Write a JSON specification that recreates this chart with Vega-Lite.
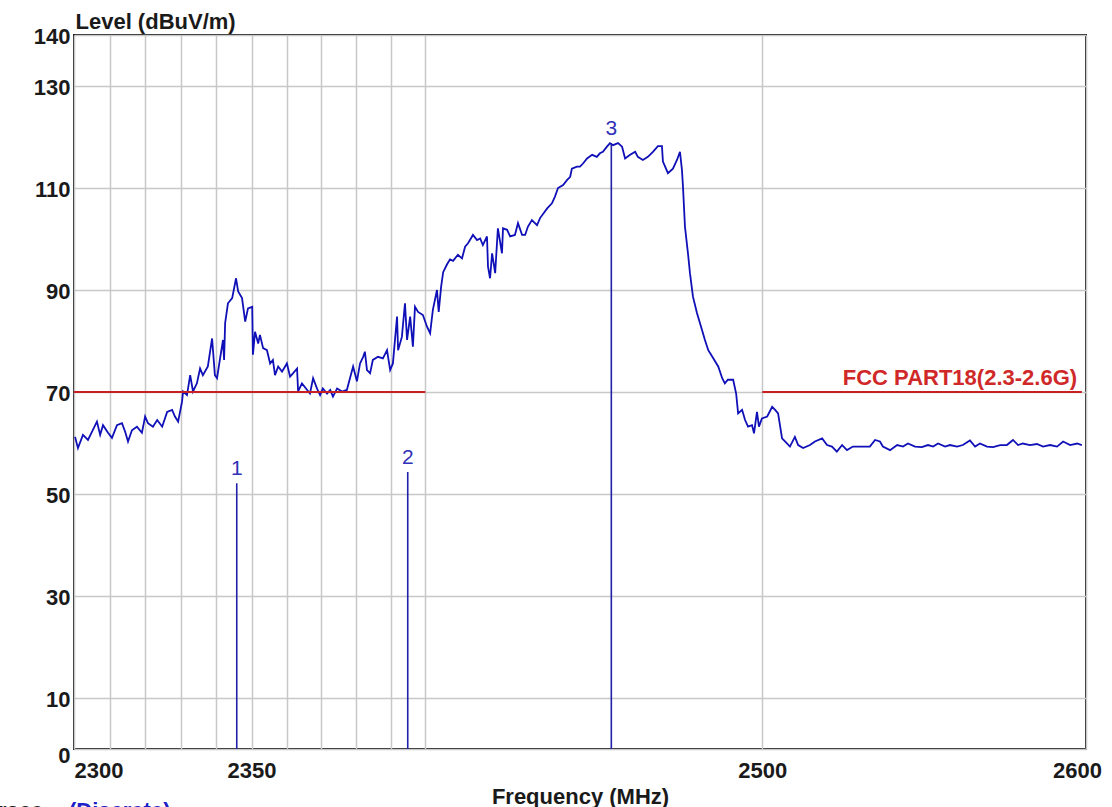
{
"$schema": "https://vega.github.io/schema/vega-lite/v6.json",
"width": 1012, "height": 714,
"autosize": {"type": "none"},
"padding": {"left": 74, "top": 35, "right": 26, "bottom": 58},
"background": "white",
"config": {"view": {"stroke": "#1a1a1a", "strokeWidth": 2}, "font": "Liberation Sans"},
"datasets": {
"trace": [
{"freq":2300.3,"level":61.2},{"freq":2301.1,"level":59.0},{"freq":2302.5,"level":61.6},{"freq":2303.9,"level":60.6},{"freq":2305.0,"level":62.2},{"freq":2306.4,"level":64.2},{"freq":2307.3,"level":61.6},{"freq":2308.1,"level":63.5},{"freq":2309.5,"level":62.0},{"freq":2310.6,"level":61.0},{"freq":2312.0,"level":63.5},{"freq":2313.4,"level":63.9},{"freq":2314.3,"level":62.2},{"freq":2315.1,"level":60.3},{"freq":2316.2,"level":62.5},{"freq":2317.6,"level":63.2},{"freq":2319.0,"level":62.0},{"freq":2319.9,"level":65.2},{"freq":2320.7,"level":63.9},{"freq":2322.1,"level":63.2},{"freq":2323.3,"level":64.5},{"freq":2324.7,"level":63.2},{"freq":2326.1,"level":66.1},{"freq":2327.5,"level":66.5},{"freq":2328.3,"level":65.2},{"freq":2329.2,"level":64.2},{"freq":2330.3,"level":68.1},{"freq":2330.6,"level":70.1},{"freq":2331.7,"level":69.4},{"freq":2332.6,"level":73.3},{"freq":2333.4,"level":70.1},{"freq":2334.5,"level":71.7},{"freq":2335.4,"level":74.6},{"freq":2336.2,"level":73.3},{"freq":2337.6,"level":75.0},{"freq":2338.8,"level":80.5},{"freq":2339.6,"level":73.3},{"freq":2340.2,"level":72.7},{"freq":2341.0,"level":76.3},{"freq":2341.9,"level":80.2},{"freq":2342.2,"level":76.3},{"freq":2342.5,"level":83.5},{"freq":2343.3,"level":87.4},{"freq":2344.5,"level":88.4},{"freq":2345.6,"level":92.3},{"freq":2346.2,"level":89.7},{"freq":2347.3,"level":88.4},{"freq":2348.2,"level":83.8},{"freq":2349.0,"level":86.4},{"freq":2350.2,"level":86.7},{"freq":2350.4,"level":77.3},{"freq":2351.0,"level":81.8},{"freq":2351.9,"level":79.5},{"freq":2352.4,"level":81.2},{"freq":2353.3,"level":78.6},{"freq":2354.4,"level":78.2},{"freq":2355.3,"level":75.6},{"freq":2356.1,"level":76.3},{"freq":2356.7,"level":73.3},{"freq":2357.6,"level":75.0},{"freq":2358.7,"level":74.0},{"freq":2360.1,"level":75.6},{"freq":2361.0,"level":73.0},{"freq":2361.9,"level":73.7},{"freq":2363.0,"level":74.6},{"freq":2363.3,"level":70.1},{"freq":2364.4,"level":71.7},{"freq":2365.9,"level":70.4},{"freq":2366.7,"level":69.7},{"freq":2367.6,"level":72.7},{"freq":2368.7,"level":70.7},{"freq":2369.6,"level":69.4},{"freq":2370.4,"level":70.7},{"freq":2371.6,"level":69.7},{"freq":2372.5,"level":70.4},{"freq":2373.3,"level":69.1},{"freq":2374.5,"level":70.7},{"freq":2375.9,"level":70.1},{"freq":2377.3,"level":70.4},{"freq":2378.2,"level":72.7},{"freq":2379.1,"level":75.0},{"freq":2380.2,"level":72.1},{"freq":2381.1,"level":75.6},{"freq":2382.0,"level":76.9},{"freq":2382.5,"level":77.9},{"freq":2383.1,"level":74.3},{"freq":2384.0,"level":73.7},{"freq":2384.8,"level":76.3},{"freq":2386.3,"level":76.9},{"freq":2387.7,"level":76.6},{"freq":2388.9,"level":78.2},{"freq":2389.8,"level":74.3},{"freq":2390.6,"level":75.6},{"freq":2391.8,"level":84.8},{"freq":2392.1,"level":78.2},{"freq":2393.2,"level":80.8},{"freq":2394.1,"level":87.4},{"freq":2394.7,"level":80.2},{"freq":2395.6,"level":84.8},{"freq":2396.4,"level":78.9},{"freq":2397.0,"level":86.7},{"freq":2397.9,"level":85.7},{"freq":2399.3,"level":85.1},{"freq":2400.5,"level":82.8},{"freq":2401.4,"level":81.5},{"freq":2402.2,"level":86.1},{"freq":2403.4,"level":90.0},{"freq":2403.9,"level":85.7},{"freq":2404.6,"level":90.6},{"freq":2405.2,"level":93.5},{"freq":2406.3,"level":95.0},{"freq":2407.2,"level":96.0},{"freq":2408.1,"level":95.7},{"freq":2409.5,"level":96.9},{"freq":2410.7,"level":96.2},{"freq":2411.6,"level":98.5},{"freq":2412.5,"level":99.2},{"freq":2413.9,"level":100.8},{"freq":2415.1,"level":99.8},{"freq":2416.0,"level":100.1},{"freq":2416.8,"level":98.8},{"freq":2418.0,"level":100.5},{"freq":2418.3,"level":94.6},{"freq":2418.9,"level":92.3},{"freq":2419.5,"level":97.2},{"freq":2420.4,"level":93.3},{"freq":2421.2,"level":102.1},{"freq":2422.4,"level":97.2},{"freq":2422.7,"level":102.1},{"freq":2423.9,"level":101.8},{"freq":2424.8,"level":100.5},{"freq":2426.2,"level":100.8},{"freq":2427.1,"level":103.1},{"freq":2428.3,"level":100.8},{"freq":2429.2,"level":100.8},{"freq":2430.0,"level":102.4},{"freq":2431.2,"level":103.7},{"freq":2432.7,"level":102.7},{"freq":2433.6,"level":104.1},{"freq":2435.7,"level":106.0},{"freq":2437.1,"level":107.0},{"freq":2438.0,"level":108.3},{"freq":2438.9,"level":110.0},{"freq":2440.4,"level":110.6},{"freq":2441.6,"level":111.6},{"freq":2442.5,"level":112.2},{"freq":2443.0,"level":113.8},{"freq":2444.5,"level":114.2},{"freq":2445.4,"level":114.2},{"freq":2446.3,"level":114.8},{"freq":2447.5,"level":115.8},{"freq":2449.0,"level":116.5},{"freq":2450.4,"level":116.1},{"freq":2451.3,"level":116.8},{"freq":2452.2,"level":117.1},{"freq":2453.4,"level":118.1},{"freq":2454.3,"level":118.8},{"freq":2455.2,"level":118.4},{"freq":2456.7,"level":118.8},{"freq":2457.9,"level":118.1},{"freq":2458.8,"level":115.8},{"freq":2460.3,"level":116.5},{"freq":2461.8,"level":117.1},{"freq":2462.6,"level":116.1},{"freq":2464.1,"level":115.5},{"freq":2465.6,"level":116.1},{"freq":2467.1,"level":117.1},{"freq":2468.6,"level":118.2},{"freq":2469.8,"level":118.2},{"freq":2470.1,"level":115.2},{"freq":2471.6,"level":112.9},{"freq":2473.1,"level":113.8},{"freq":2474.3,"level":115.5},{"freq":2475.2,"level":117.1},{"freq":2475.8,"level":113.5},{"freq":2476.1,"level":110.3},{"freq":2476.7,"level":102.4},{"freq":2477.6,"level":97.2},{"freq":2478.2,"level":93.3},{"freq":2479.1,"level":88.7},{"freq":2480.3,"level":85.5},{"freq":2481.8,"level":82.2},{"freq":2482.7,"level":80.2},{"freq":2483.7,"level":78.2},{"freq":2485.2,"level":76.6},{"freq":2486.7,"level":75.0},{"freq":2487.9,"level":72.7},{"freq":2488.7,"level":71.7},{"freq":2489.6,"level":72.4},{"freq":2491.2,"level":72.4},{"freq":2492.1,"level":69.7},{"freq":2492.7,"level":65.8},{"freq":2493.9,"level":66.5},{"freq":2494.8,"level":64.5},{"freq":2495.7,"level":63.2},{"freq":2496.9,"level":63.5},{"freq":2497.5,"level":61.9},{"freq":2498.4,"level":66.1},{"freq":2499.0,"level":63.2},{"freq":2499.9,"level":64.8},{"freq":2501.5,"level":65.2},{"freq":2503.0,"level":67.1},{"freq":2503.9,"level":66.5},{"freq":2504.8,"level":65.8},{"freq":2506.0,"level":60.9},{"freq":2506.9,"level":60.3},{"freq":2508.4,"level":59.3},{"freq":2509.9,"level":61.2},{"freq":2510.9,"level":59.6},{"freq":2512.4,"level":59.0},{"freq":2514.5,"level":59.6},{"freq":2516.0,"level":60.3},{"freq":2518.2,"level":60.9},{"freq":2519.7,"level":59.6},{"freq":2521.2,"level":59.3},{"freq":2522.7,"level":58.3},{"freq":2524.3,"level":59.6},{"freq":2525.8,"level":58.6},{"freq":2527.6,"level":59.3},{"freq":2529.8,"level":59.3},{"freq":2532.8,"level":59.3},{"freq":2534.4,"level":60.6},{"freq":2535.9,"level":60.3},{"freq":2536.8,"level":59.3},{"freq":2539.0,"level":58.6},{"freq":2541.2,"level":59.6},{"freq":2543.0,"level":59.3},{"freq":2544.5,"level":59.9},{"freq":2546.7,"level":59.3},{"freq":2548.8,"level":59.2},{"freq":2550.7,"level":59.6},{"freq":2552.3,"level":59.3},{"freq":2553.8,"level":59.9},{"freq":2556.0,"level":59.3},{"freq":2557.5,"level":59.6},{"freq":2559.7,"level":59.3},{"freq":2561.5,"level":59.6},{"freq":2563.7,"level":60.5},{"freq":2565.3,"level":59.3},{"freq":2566.8,"level":59.9},{"freq":2569.0,"level":59.3},{"freq":2570.9,"level":59.2},{"freq":2573.1,"level":59.6},{"freq":2575.2,"level":59.6},{"freq":2577.1,"level":60.6},{"freq":2578.7,"level":59.6},{"freq":2580.2,"level":59.9},{"freq":2582.4,"level":59.6},{"freq":2584.6,"level":59.8},{"freq":2586.5,"level":59.3},{"freq":2588.7,"level":59.6},{"freq":2590.9,"level":59.3},{"freq":2592.8,"level":60.3},{"freq":2595.0,"level":59.6},{"freq":2597.2,"level":59.9},{"freq":2598.7,"level":59.6}
],
"limit": [{"freq":2300,"freq2":2400,"level":70},{"freq":2500,"freq2":2598.7,"level":70}],
"markers": [{"freq":2345.8,"level":52.1,"label":"1"},{"freq":2394.9,"level":54.3,"label":"2"},{"freq":2454.7,"level":118.8,"label":"3"}],
"limitLabel": [{"freq":2597.2,"level":70,"label":"FCC PART18(2.3-2.6G)"}],
"traceName": [{"freq":2293.5,"level":-13.5,"label":"Trace:"}],
"traceType": [{"freq":2298.6,"level":-13.5,"label":"(Discrete)"}]
},
"layer": [
{
"data": {"name": "trace"},
"mark": {"type": "line", "color": "#1010b8", "strokeWidth": 1.8, "clip": true},
"encoding": {
"x": {"field": "freq", "type": "quantitative",
"scale": {"type": "log", "domain": [2300, 2600], "nice": false},
"axis": {"values": [2300,2310,2320,2330,2340,2350,2360,2370,2380,2390,2400,2500,2600],
"labelExpr": "indexof([2300,2350,2500,2600], datum.value) >= 0 ? format(datum.value, 'd') : ''",
"title": "Frequency (MHz)", "titleFontSize": 22, "titleFontWeight": "bold", "titleColor": "#1a1a1a",
"titleBaseline": "alphabetic", "titleY": 54, "titleX": 506, "titleAlign": "center",
"labelFontSize": 22, "labelFontWeight": "bold", "labelColor": "#1a1a1a", "labelPadding": 11,
"labelAlign": {"expr": "datum.value == 2300 ? 'left' : 'center'"},
"labelOffset": {"expr": "datum.value == 2600 ? -9 : 0"},
"labelOverlap": false, "labelFlush": false, "labelBound": false,
"ticks": false, "tickSize": 0, "domain": false,
"grid": true, "gridColor": "#c8c8c8", "gridWidth": 1.5}},
"y": {"field": "level", "type": "quantitative",
"scale": {"domain": [0, 140], "nice": false},
"axis": {"values": [0,10,30,50,70,90,110,130,140],
"title": "Level (dBuV/m)", "titleAngle": 0, "titleAlign": "left", "titleBaseline": "alphabetic",
"titleX": 1, "titleY": -7, "titleFontSize": 22, "titleFontWeight": "bold", "titleColor": "#1a1a1a",
"labelFontSize": 22, "labelFontWeight": "bold", "labelColor": "#1a1a1a", "labelPadding": 4,
"labelOffset": {"expr": "datum.value == 0 ? 6 : 1"},
"labelOverlap": false, "labelFlush": false, "labelBound": false,
"ticks": false, "tickSize": 0, "domain": false,
"grid": true, "gridColor": "#c8c8c8", "gridWidth": 1.5}}
}
},
{
"data": {"name": "limit"},
"mark": {"type": "rule", "color": "#c82020", "strokeWidth": 2},
"encoding": {
"x": {"field": "freq", "type": "quantitative"},
"x2": {"field": "freq2"},
"y": {"field": "level", "type": "quantitative"}
}
},
{
"data": {"name": "markers"},
"mark": {"type": "rule", "color": "#2020a8", "strokeWidth": 1.6},
"encoding": {
"x": {"field": "freq", "type": "quantitative"},
"y": {"field": "level", "type": "quantitative"},
"y2": {"datum": 0}
}
},
{
"data": {"name": "markers"},
"mark": {"type": "text", "color": "#3030b8", "fontSize": 21, "baseline": "alphabetic", "align": "center", "dy": -8},
"encoding": {
"x": {"field": "freq", "type": "quantitative"},
"y": {"field": "level", "type": "quantitative"},
"text": {"field": "label"}
}
},
{
"data": {"name": "limitLabel"},
"mark": {"type": "text", "color": "#d02828", "fontSize": 22, "fontWeight": "bold", "baseline": "alphabetic", "align": "right", "dy": -7},
"encoding": {
"x": {"field": "freq", "type": "quantitative"},
"y": {"field": "level", "type": "quantitative"},
"text": {"field": "label"}
}
},
{
"data": {"name": "traceName"},
"mark": {"type": "text", "color": "#1a1a1a", "fontSize": 22, "fontWeight": "bold", "baseline": "alphabetic", "align": "right"},
"encoding": {
"x": {"field": "freq", "type": "quantitative"},
"y": {"field": "level", "type": "quantitative"},
"text": {"field": "label"}
}
},
{
"data": {"name": "traceType"},
"mark": {"type": "text", "color": "#2020c8", "fontSize": 22, "fontWeight": "bold", "baseline": "alphabetic", "align": "left"},
"encoding": {
"x": {"field": "freq", "type": "quantitative"},
"y": {"field": "level", "type": "quantitative"},
"text": {"field": "label"}
}
}
]
}
